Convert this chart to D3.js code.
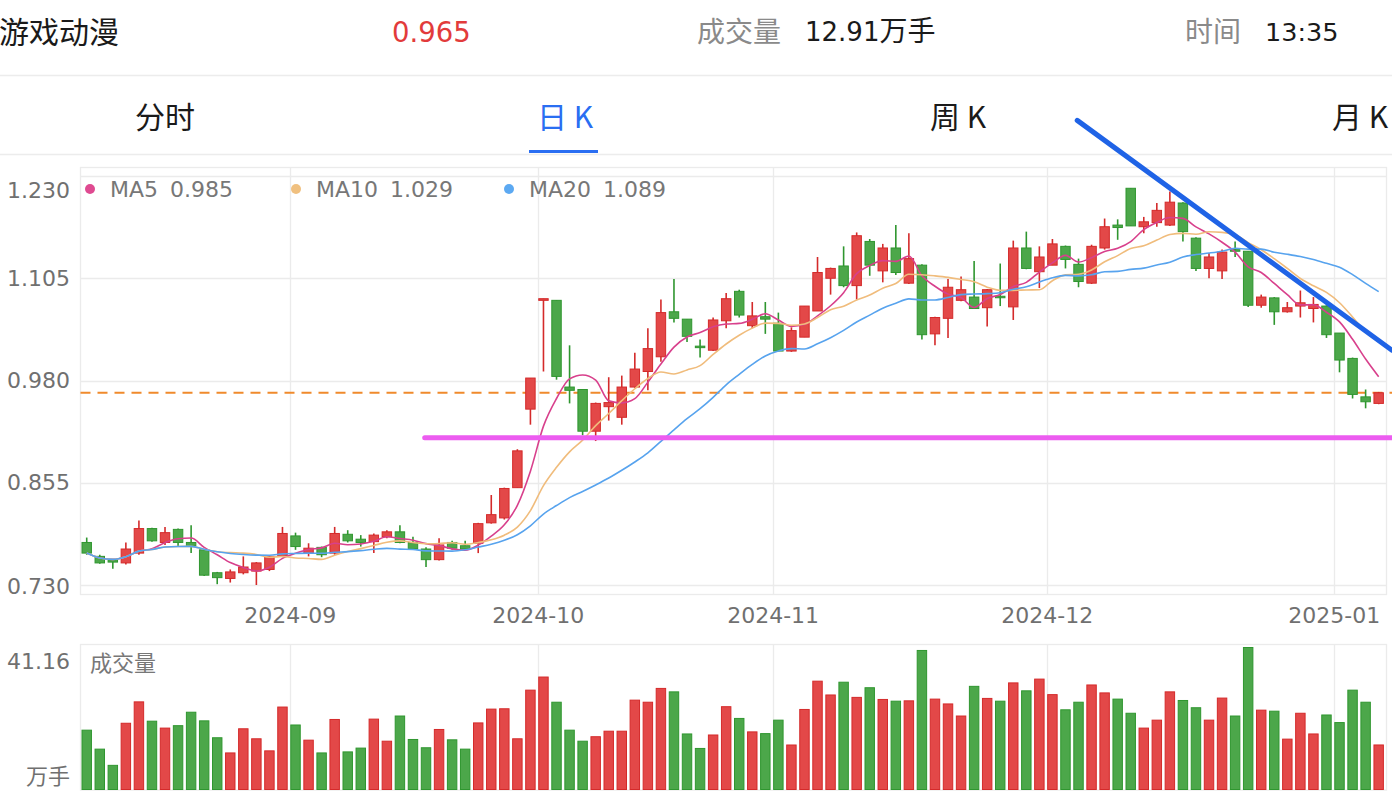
<!DOCTYPE html>
<html><head><meta charset="utf-8">
<script src="https://cdn.jsdelivr.net/npm/d3@7"></script>
<style>
body{margin:0;background:#fff;overflow:hidden;}
svg{display:block;font-family:"DejaVu Sans","Noto Sans CJK SC",sans-serif;}
.cjk{font-family:"Noto Sans CJK SC",sans-serif;}
</style>
</head><body><svg id="c" width="1392" height="802"></svg>
<script>
// ---------- data ----------
const dates = [
"2024-08-09","2024-08-12","2024-08-13","2024-08-14","2024-08-15","2024-08-16","2024-08-19","2024-08-20","2024-08-21","2024-08-22",
"2024-08-23","2024-08-26","2024-08-27","2024-08-28","2024-08-29","2024-08-30","2024-09-02","2024-09-03","2024-09-04","2024-09-05",
"2024-09-06","2024-09-09","2024-09-10","2024-09-11","2024-09-12","2024-09-13","2024-09-18","2024-09-19","2024-09-20","2024-09-23",
"2024-09-24","2024-09-25","2024-09-26","2024-09-27","2024-09-30","2024-10-08","2024-10-09","2024-10-10","2024-10-11","2024-10-14",
"2024-10-15","2024-10-16","2024-10-17","2024-10-18","2024-10-21","2024-10-22","2024-10-23","2024-10-24","2024-10-25","2024-10-28",
"2024-10-29","2024-10-30","2024-10-31","2024-11-01","2024-11-04","2024-11-05","2024-11-06","2024-11-07","2024-11-08","2024-11-11",
"2024-11-12","2024-11-13","2024-11-14","2024-11-15","2024-11-18","2024-11-19","2024-11-20","2024-11-21","2024-11-22","2024-11-25",
"2024-11-26","2024-11-27","2024-11-28","2024-11-29","2024-12-02","2024-12-03","2024-12-04","2024-12-05","2024-12-06","2024-12-09",
"2024-12-10","2024-12-11","2024-12-12","2024-12-13","2024-12-16","2024-12-17","2024-12-18","2024-12-19","2024-12-20","2024-12-23",
"2024-12-24","2024-12-25","2024-12-26","2024-12-27","2024-12-30","2024-12-31","2025-01-02","2025-01-03","2025-01-06","2025-01-07"];

const openP = [
0.782,0.765,0.761,0.757,0.769,0.799,0.782,0.798,0.782,0.773,
0.745,0.738,0.745,0.747,0.749,0.765,0.790,0.769,0.776,0.769,
0.792,0.786,0.783,0.789,0.795,0.782,0.774,0.761,0.782,0.778,
0.781,0.806,0.812,0.849,0.945,1.078,1.078,0.972,0.969,0.918,
0.948,0.935,0.972,0.991,1.009,1.064,1.055,1.022,1.017,1.053,
1.089,1.047,1.058,1.050,1.016,1.033,1.065,1.105,1.120,1.096,
1.150,1.114,1.142,1.099,1.121,1.037,1.056,1.078,1.082,1.069,
1.083,1.070,1.142,1.113,1.121,1.144,1.122,1.099,1.142,1.170,
1.215,1.168,1.173,1.170,1.197,1.154,1.117,1.114,1.140,1.138,
1.072,1.081,1.064,1.071,1.068,1.071,1.038,1.007,0.960,0.952];

const closeP = [
0.769,0.757,0.758,0.774,0.799,0.784,0.794,0.782,0.778,0.742,
0.739,0.746,0.752,0.757,0.765,0.793,0.777,0.775,0.767,0.793,
0.784,0.782,0.791,0.795,0.782,0.774,0.761,0.779,0.775,0.774,
0.805,0.816,0.848,0.894,0.983,1.080,0.985,0.968,0.918,0.952,
0.953,0.972,0.994,1.019,1.063,1.056,1.034,1.021,1.054,1.080,
1.060,1.059,1.055,1.016,1.041,1.071,1.112,1.117,1.096,1.157,
1.121,1.142,1.112,1.129,1.036,1.057,1.094,1.091,1.068,1.091,
1.082,1.142,1.117,1.131,1.147,1.128,1.101,1.144,1.168,1.167,
1.169,1.174,1.188,1.198,1.162,1.117,1.131,1.137,1.138,1.072,
1.082,1.064,1.069,1.075,1.073,1.036,1.005,0.963,0.954,0.965];

const highP = [
0.788,0.767,0.761,0.782,0.809,0.800,0.801,0.799,0.803,0.774,
0.746,0.749,0.765,0.758,0.766,0.801,0.794,0.781,0.777,0.801,
0.797,0.791,0.793,0.797,0.803,0.789,0.776,0.787,0.784,0.784,
0.806,0.840,0.849,0.896,0.983,1.080,1.078,1.023,0.969,0.953,
0.984,0.986,1.014,1.044,1.079,1.104,1.055,1.030,1.057,1.087,
1.091,1.076,1.076,1.063,1.045,1.071,1.131,1.118,1.144,1.161,
1.153,1.147,1.170,1.160,1.122,1.058,1.104,1.107,1.126,1.092,
1.123,1.151,1.162,1.144,1.153,1.145,1.129,1.146,1.178,1.177,
1.215,1.180,1.197,1.211,1.198,1.155,1.136,1.140,1.150,1.138,
1.085,1.082,1.076,1.090,1.082,1.072,1.038,1.008,0.969,0.966];

const lowP = [
0.767,0.756,0.750,0.755,0.767,0.783,0.779,0.777,0.769,0.741,
0.731,0.733,0.743,0.730,0.747,0.764,0.773,0.765,0.764,0.767,
0.782,0.777,0.769,0.787,0.781,0.773,0.752,0.760,0.773,0.773,
0.769,0.805,0.810,0.849,0.926,0.991,0.981,0.952,0.913,0.906,
0.931,0.926,0.971,0.968,1.003,1.051,1.027,1.008,1.016,1.044,
1.057,1.044,1.037,1.016,1.015,1.033,1.065,1.085,1.094,1.079,
1.108,1.100,1.109,1.098,1.030,1.023,1.032,1.077,1.068,1.046,
1.071,1.054,1.116,1.093,1.121,1.117,1.094,1.098,1.140,1.152,
1.169,1.160,1.168,1.169,1.150,1.114,1.105,1.104,1.131,1.070,
1.069,1.048,1.063,1.057,1.051,1.032,0.990,0.958,0.946,0.951];

// 万手
const volume = [
17.2,11.7,7.0,19.2,25.4,19.8,17.8,18.5,22.4,19.9,
15.0,10.6,17.6,14.7,11.2,23.9,18.7,14.3,10.6,20.3,
10.9,12.0,20.4,14.0,21.3,14.5,12.1,17.4,14.4,11.7,
19.3,23.3,23.4,14.7,28.8,32.6,25.3,17.2,14.0,15.3,
16.9,16.9,25.9,25.3,29.3,28.3,16.1,11.9,15.8,24.0,
20.6,16.7,16.2,20.1,12.9,23.2,31.4,27.4,31.1,26.7,
29.5,26.1,25.6,25.7,40.3,26.2,24.8,21.3,29.9,26.4,
25.6,30.9,28.6,32.0,27.5,23.1,25.3,30.3,28.0,26.2,
22.1,17.8,20.1,28.3,25.8,23.7,20.1,26.5,21.3,41.16,
23.0,22.7,14.6,22.1,16.1,21.6,19.4,28.8,25.3,12.91];

const priceTicks = [0.730, 0.855, 0.980, 1.105, 1.230];
const monthTickDates = ["2024-09-02","2024-10-08","2024-11-01","2024-12-02","2025-01-02"];
const monthTickLabels = ["2024-09","2024-10","2024-11","2024-12","2025-01"];
const maPeriods = [5, 10, 20];
const volumeMax = 41.16;
const lastPrice = 0.965;
const supportPrice = 0.910;            // hand-drawn horizontal line
const supportFromIndex = 26.3;
const trendStart = [76.3, 1.298];      // hand-drawn trend line [index, price]
const trendEnd = [100.42, 1.017];

// ---------- styles ----------
const RED_FILL = "#e34848", RED_LINE = "#d42a2a";
const GREEN_FILL = "#4ca74a", GREEN_LINE = "#2f962f";
const MA_COLORS = ["#d8408c", "#f0bc7c", "#57a3ee"];
const MA_DOTS = ["#df4a91", "#f0c07f", "#5ca9f2"];
const GRID = "#ebebeb";
const AXIS_TEXT = "#707070";

const svg = d3.select("#c");

// ---------- header ----------
const hdr = svg.append("g");
hdr.append("text").attr("class", "cjk").attr("x", -1).attr("y", 32).attr("dy", "0.35em").attr("font-size", 30).attr("fill", "#1a1a1a").text("游戏动漫");
hdr.append("text").attr("x", 392).attr("y", 32).attr("dy", "0.35em").attr("font-size", 27.5).attr("fill", "#e23b3b").text(d3.format(".3f")(closeP[closeP.length-1]));
hdr.append("text").attr("class", "cjk").attr("x", 697).attr("y", 32).attr("dy", "0.35em").attr("font-size", 28).attr("fill", "#8a8a8a").text("成交量");
const vt = hdr.append("text").attr("x", 805).attr("y", 32).attr("dy", "0.35em").attr("font-size", 26).attr("fill", "#1a1a1a");
vt.append("tspan").text(d3.format(".2f")(volume[volume.length-1]));
vt.append("tspan").attr("class", "cjk").attr("font-size", 28).text("万手");
hdr.append("text").attr("class", "cjk").attr("x", 1185).attr("y", 32).attr("dy", "0.35em").attr("font-size", 28).attr("fill", "#8a8a8a").text("时间");
hdr.append("text").attr("x", 1265).attr("y", 32).attr("dy", "0.35em").attr("font-size", 25.5).attr("fill", "#1a1a1a").text("13:35");
svg.append("line").attr("x1", 0).attr("x2", 1392).attr("y1", 75.5).attr("y2", 75.5).attr("stroke", "#ececec").attr("stroke-width", 1.5);

const tabs = [{t:"分时", x:135, c:"#1a1a1a"}, {t:"日 K", x:537, c:"#2a6ef2"}, {t:"周 K", x:930, c:"#1a1a1a"}, {t:"月 K", x:1332, c:"#1a1a1a"}];
svg.append("g").selectAll("text").data(tabs).join("text").attr("class", "cjk")
  .attr("x", d => d.x).attr("y", 117).attr("dy", "0.35em").attr("font-size", 30).attr("fill", d => d.c).text(d => d.t);
svg.append("rect").attr("x", 529).attr("y", 150).attr("width", 69).attr("height", 3).attr("fill", "#2a6ef2");
svg.append("line").attr("x1", 0).attr("x2", 1392).attr("y1", 154.5).attr("y2", 154.5).attr("stroke", "#ececec").attr("stroke-width", 1.5);

// ---------- scales ----------
const L = 81.5, R = 1386.5;
const x = d3.scaleBand().domain(dates).range([L, R]).paddingInner(0.2).paddingOuter(0.1).align(0);
const xi = d3.scaleLinear().domain([0, dates.length]).range([L, R]);
const bw = x.bandwidth();
const y = d3.scaleLinear().domain([0.730, 1.230]).range([585, 176]);
const yv = d3.scaleLinear().domain([0, volumeMax]).range([789.5, 647.5]);

const data = dates.map((d, i) => ({d, i, o: openP[i], c: closeP[i], h: highP[i], l: lowP[i], v: volume[i]}));
const up = d => d.c >= d.o;

// ---------- frames & grid ----------
const P_TOP = 167, P_BOT = 594, V_TOP = 644, V_BOT = 789.5;
const frame = svg.append("g");
frame.append("rect").attr("x", 80.5).attr("y", P_TOP+0.5).attr("width", 1306).attr("height", P_BOT-P_TOP).attr("fill", "none").attr("stroke", GRID).attr("stroke-width", 1.3);
frame.append("g").selectAll("line").data(priceTicks).join("line")
  .attr("x1", 80.5).attr("x2", 1386.5).attr("y1", d => Math.round(y(d))+0.5).attr("y2", d => Math.round(y(d))+0.5)
  .attr("stroke", GRID).attr("stroke-width", 1.3);
frame.append("g").selectAll("line").data(monthTickDates).join("line")
  .attr("x1", d => Math.round(x(d))+0.5).attr("x2", d => Math.round(x(d))+0.5).attr("y1", P_TOP).attr("y2", P_BOT)
  .attr("stroke", GRID).attr("stroke-width", 1.3);
frame.append("rect").attr("x", 80.5).attr("y", V_TOP+0.5).attr("width", 1306).attr("height", V_BOT-V_TOP).attr("fill", "none").attr("stroke", GRID).attr("stroke-width", 1.3);
frame.append("g").selectAll("line").data(monthTickDates).join("line")
  .attr("x1", d => Math.round(x(d))+0.5).attr("x2", d => Math.round(x(d))+0.5).attr("y1", V_TOP).attr("y2", V_BOT)
  .attr("stroke", GRID).attr("stroke-width", 1.3);

// y labels
svg.append("g").selectAll("text").data(priceTicks).join("text")
  .attr("x", 70).attr("text-anchor", "end")
  .attr("y", (d, i) => i === priceTicks.length-1 ? 190 : (i === 0 ? 586 : y(d)))
  .attr("dy", "0.35em").attr("font-size", 22).attr("fill", AXIS_TEXT)
  .text(d => d3.format(".3f")(d));

// x labels
svg.append("g").selectAll("text").data(monthTickDates).join("text")
  .attr("x", d => x(d)).attr("y", 615).attr("dy", "0.35em").attr("text-anchor", "middle")
  .attr("font-size", 22).attr("fill", AXIS_TEXT)
  .text((d, i) => monthTickLabels[i]);

// current price dashed line
svg.append("line").attr("x1", 80.5).attr("x2", 1392).attr("y1", y(lastPrice)).attr("y2", y(lastPrice))
  .attr("stroke", "#f08a2c").attr("stroke-width", 2).attr("stroke-dasharray", "10,7");

// ---------- candles ----------
const cg = svg.append("g");
const cx = d => x(d.d) + bw/2;
cg.selectAll("line.wick").data(data).join("line").attr("class", "wick")
  .attr("x1", cx).attr("x2", cx).attr("y1", d => y(d.h)).attr("y2", d => y(d.l))
  .attr("stroke", d => up(d) ? RED_LINE : GREEN_LINE).attr("stroke-width", 1.6);
cg.selectAll("rect").data(data).join("rect")
  .attr("x", d => x(d.d)+0.5).attr("width", bw-1)
  .attr("y", d => y(Math.max(d.o, d.c)))
  .attr("height", d => Math.max(1.5, Math.abs(y(d.o) - y(d.c))))
  .attr("fill", d => up(d) ? RED_FILL : GREEN_FILL)
  .attr("stroke", d => up(d) ? RED_LINE : GREEN_LINE).attr("stroke-width", 1);

// ---------- moving averages ----------
const maSeries = maPeriods.map(n => data.map((d, i) => {
  const s = closeP.slice(Math.max(0, i-n+1), i+1);
  return {d: d.d, v: d3.mean(s)};
}));
const line = d3.line().x(p => x(p.d) + bw/2).y(p => y(p.v)).curve(d3.curveMonotoneX);
svg.append("g").selectAll("path").data(maSeries).join("path")
  .attr("d", line).attr("fill", "none").attr("stroke", (d, i) => MA_COLORS[i]).attr("stroke-width", 1.6);

// legend
const lg = svg.append("g");
const legendX = [90, 296, 509];
maPeriods.forEach((n, i) => {
  const gx = legendX[i];
  lg.append("circle").attr("cx", gx).attr("cy", 189).attr("r", 5).attr("fill", MA_DOTS[i]);
  const t = lg.append("text").attr("x", gx+20).attr("y", 189).attr("dy", "0.35em").attr("font-size", 22).attr("fill", "#777").text("MA" + n);
  const w = t.node().getComputedTextLength();
  lg.append("text").attr("x", gx+20+w+12).attr("y", 189).attr("dy", "0.35em").attr("font-size", 22).attr("fill", "#777")
    .text(d3.format(".3f")(maSeries[i][maSeries[i].length-1].v));
});

// ---------- hand-drawn annotations ----------
svg.append("line").attr("x1", xi(supportFromIndex)).attr("x2", xi(trendEnd[0])).attr("y1", y(supportPrice)).attr("y2", y(supportPrice))
  .attr("stroke", "#ec5cf0").attr("stroke-width", 5).attr("stroke-linecap", "round");
svg.append("line").attr("x1", xi(trendStart[0])).attr("y1", y(trendStart[1])).attr("x2", xi(trendEnd[0])).attr("y2", y(trendEnd[1]))
  .attr("stroke", "#1f63e6").attr("stroke-width", 5).attr("stroke-linecap", "round");

// ---------- volume ----------
svg.append("g").selectAll("rect").data(data).join("rect")
  .attr("x", d => x(d.d)+0.5).attr("width", bw-1)
  .attr("y", d => yv(d.v)).attr("height", d => yv(0) - yv(d.v))
  .attr("fill", d => up(d) ? RED_FILL : GREEN_FILL)
  .attr("stroke", d => up(d) ? RED_LINE : GREEN_LINE).attr("stroke-width", 1);

svg.append("text").attr("x", 70).attr("y", 661).attr("dy", "0.35em").attr("text-anchor", "end").attr("font-size", 22).attr("fill", AXIS_TEXT).text(d3.format(".2f")(volumeMax));
svg.append("text").attr("class", "cjk").attr("x", 70).attr("y", 776).attr("dy", "0.35em").attr("text-anchor", "end").attr("font-size", 22).attr("fill", AXIS_TEXT).text("万手");
svg.append("text").attr("class", "cjk").attr("x", 90).attr("y", 663).attr("dy", "0.35em").attr("font-size", 22).attr("fill", "#777").text("成交量");
</script>
</body></html>
